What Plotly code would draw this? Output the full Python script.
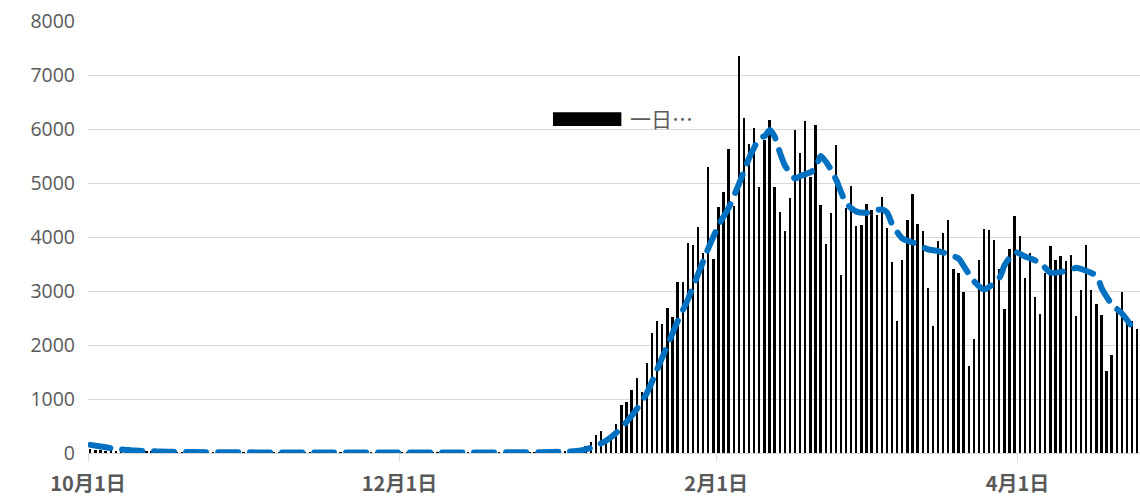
import datetime as dt
import plotly.graph_objects as go

# Daily new cases, one list per month (2021-10-01 .. 2022-04-25)
oct_cases = [70, 55, 60, 45, 50, 40, 35, 30, 35, 25, 20, 25, 20, 18, 15, 20,
             15, 12, 10, 12, 10, 8, 10, 12, 8, 6, 8, 10, 6, 5, 8]
nov_cases = [6, 8, 5, 7, 6, 9, 5, 4, 7, 6, 8, 5, 6, 4, 7, 6, 5, 8, 6, 5,
             7, 4, 6, 5, 8, 6, 7, 5, 6, 8]
dec_cases = [6, 5, 7, 8, 6, 5, 9, 7, 6, 8, 5, 7, 6, 9, 8, 7, 10, 8, 9, 12,
             10, 11, 14, 12, 15, 13, 16, 18, 20, 22, 25]
jan_cases = [30, 40, 50, 60, 90, 130, 205, 325, 400, 200, 260, 537, 882, 950,
             1165, 1390, 1135, 1660, 2215, 2443, 2388, 2682, 2515, 3165, 3163,
             3880, 3855, 4184, 3700, 5303, 3600]
feb_cases = [4557, 4830, 5622, 4580, 7355, 6204, 5717, 6019, 4932, 5797, 6167,
             4932, 4457, 4111, 4728, 5980, 5560, 6155, 5105, 6066, 4593, 3872,
             4453, 5700, 3305, 4530, 4946, 4203]
mar_cases = [4225, 4610, 4500, 4400, 4734, 4172, 3530, 2447, 3573, 4314, 4792,
             4250, 4119, 3049, 2352, 3926, 4068, 4321, 3401, 3327, 2988, 1617,
             2111, 3574, 4142, 4124, 3939, 3400, 2667, 3780, 4388]
apr_cases = [4021, 3240, 3697, 2882, 2577, 3327, 3839, 3573, 3647, 3555, 3660,
             2537, 3012, 3857, 3018, 2759, 2558, 1515, 1815, 2728, 2981, 2478,
             2450, 2291]

# 7-day moving average: (days since 10/1, value)
ma_offsets = [0, 2, 5, 8, 11, 15, 20, 30, 45, 60, 75, 88, 93, 96, 99, 101, 103,
              105, 107, 109, 111, 113, 115, 117, 119, 121, 123, 125, 127, 129,
              131, 132, 133, 134, 135, 136, 138, 139, 141, 142, 143, 145, 146,
              148, 150, 152, 154, 155, 156, 157, 159, 161, 164, 166, 170, 171,
              173, 175, 178, 179, 181, 183, 186, 188, 192, 193, 197, 198, 200,
              202, 204]
ma_values = [150, 120, 75, 50, 35, 25, 18, 12, 10, 10, 10, 15, 25, 45, 130, 230,
             380, 580, 820, 1120, 1560, 2000, 2450, 2850, 3320, 3800, 4220, 4550,
             4990, 5470, 5830, 5870, 5980, 5850, 5560, 5320, 5080, 5130, 5200,
             5280, 5500, 5250, 5060, 4620, 4470, 4450, 4500, 4510, 4450, 4230,
             3970, 3900, 3770, 3740, 3600, 3460, 3180, 3030, 3250, 3480, 3720,
             3640, 3520, 3340, 3390, 3430, 3280, 3050, 2750, 2580, 2330]

tick_dates = ["2021-10-01", "2021-12-01", "2022-02-01", "2022-04-01"]
tick_labels = ["10月1日", "12月1日", "2月1日", "4月1日"]
y_ticks = [0, 1000, 2000, 3000, 4000, 5000, 6000, 7000, 8000]

start = dt.date(2021, 10, 1)
daily_cases = (oct_cases + nov_cases + dec_cases + jan_cases + feb_cases
               + mar_cases + apr_cases)
dates = [start + dt.timedelta(days=i) for i in range(len(daily_cases))]
ma_dates = [start + dt.timedelta(days=i) for i in ma_offsets]

DAY_MS = 86400000
GREY = "#595959"
FONT = "Noto Sans CJK JP"
NUM_FONT = "Open Sans"

fig = go.Figure()
fig.add_trace(go.Bar(
    x=dates, y=daily_cases, name="一日…",
    xperiod=DAY_MS, xperiodalignment="middle",
    width=0.36 * DAY_MS,
    marker=dict(color="#000000", line=dict(width=0)),
    showlegend=False,
))
fig.add_trace(go.Scatter(
    x=ma_dates, y=ma_values, mode="lines",
    xperiod=DAY_MS, xperiodalignment="middle",
    line=dict(color="#0070C0", width=6, dash="20px,12px", shape="spline",
              smoothing=0.6),
    showlegend=False, hoverinfo="skip",
))

# Legend entry for the bar series
fig.add_shape(type="rect", xref="paper", yref="paper",
              x0=0.442, x1=0.507, y0=0.757, y1=0.789,
              fillcolor="#000000", line=dict(width=0))
fig.add_annotation(text="一日…", xref="paper", yref="paper",
                   x=0.513, y=0.776, xanchor="left", yanchor="middle",
                   showarrow=False, font=dict(family=FONT, size=21, color=GREY))

fig.update_layout(
    width=1140, height=500,
    margin=dict(l=88, r=0, t=21, b=47, autoexpand=False),
    paper_bgcolor="white", plot_bgcolor="white",
    bargap=0,
    font=dict(family=FONT, color=GREY),
)
fig.update_xaxes(
    type="date", automargin=False,
    range=["2021-10-01", "2022-04-25"],
    tickvals=tick_dates, ticktext=tick_labels,
    tickfont=dict(family=FONT, size=20, color=GREY, weight="bold"),
    ticks="outside", ticklen=7, tickcolor="#D9D9D9", tickwidth=1,
    ticklabelstandoff=6,
    showgrid=False, showline=True, linecolor="#D9D9D9", linewidth=1,
    zeroline=False,
)
fig.update_yaxes(
    automargin=False,
    range=[0, 8000], tickvals=y_ticks,
    tickfont=dict(family=NUM_FONT, size=19.5, color=GREY),
    showgrid=True, gridcolor="#D9D9D9", gridwidth=1,
    zeroline=False, showline=False, ticks="", ticklabelstandoff=12,
)

fig.write_html(
    "out.html",
    post_script="document.querySelectorAll('.scatterlayer .js-line')"
                ".forEach(function(p){p.style.strokeLinecap='round';});",
)
